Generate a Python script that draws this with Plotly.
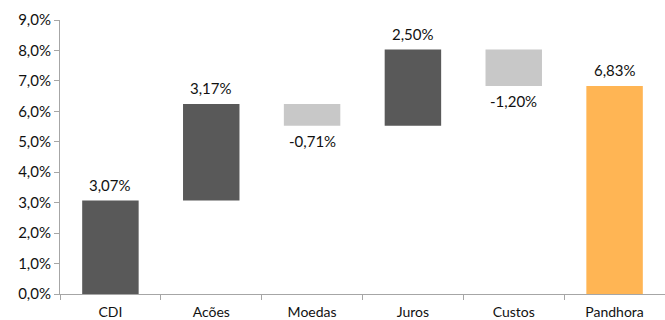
import plotly.graph_objects as go

categories = ["CDI", "Acões", "Moedas", "Juros", "Custos", "Pandhora"]
values = [3.07, 3.17, -0.71, 2.50, -1.20, 6.83]
is_total = [False, False, False, False, False, True]
labels = ["3,07%", "3,17%", "-0,71%", "2,50%", "-1,20%", "6,83%"]
tick_vals = [0, 1, 2, 3, 4, 5, 6, 7, 8, 9]
tick_text = ["0,0%", "1,0%", "2,0%", "3,0%", "4,0%", "5,0%", "6,0%", "7,0%", "8,0%", "9,0%"]

DARK = "#595959"
LIGHT = "#C8C8C8"
ORANGE = "#FFB554"
FONT = "Lato"

bases, heights, colors, label_y, label_up = [], [], [], [], []
cum = 0.0
for v, tot in zip(values, is_total):
    if tot:
        bases.append(0)
        heights.append(v)
        colors.append(ORANGE)
        label_y.append(v)
        label_up.append(True)
        cum = v
    else:
        start = cum
        cum = cum + v
        bases.append(min(start, cum))
        heights.append(abs(v))
        colors.append(DARK if v >= 0 else LIGHT)
        label_y.append(cum)
        label_up.append(v >= 0)

fig = go.Figure()
fig.add_trace(go.Bar(x=categories, y=heights, base=bases, marker=dict(color=colors, line=dict(width=0)),
                     width=0.56, hoverinfo="skip", showlegend=False))

for c, y, t, up in zip(categories, label_y, labels, label_up):
    fig.add_annotation(x=c, y=y, text=t, showarrow=False,
                       yanchor="bottom" if up else "top",
                       yshift=5 if up else -4,
                       font=dict(size=15, color="#111111", family=FONT))

fig.update_layout(
    width=665, height=320,
    margin=dict(l=60, r=0, t=20, b=26),
    paper_bgcolor="white", plot_bgcolor="white",
    font=dict(family=FONT, size=14, color="#111111"),
)
fig.update_xaxes(showgrid=False, showline=True, linecolor="#A6A6A6", linewidth=1,
                 ticks="outside", tickson="boundaries", ticklen=5, tickcolor="#A6A6A6",
                 ticklabelstandoff=5,
                 tickfont=dict(size=14, family=FONT, color="#111111"))
fig.update_yaxes(range=[0, 9], tickvals=tick_vals, ticktext=tick_text,
                 showgrid=False, showline=True, linecolor="#A6A6A6", linewidth=1,
                 ticks="outside", ticklen=5, tickcolor="#A6A6A6", zeroline=False,
                 tickfont=dict(size=15, family=FONT, color="#111111"))

fig.write_html("out.html")
